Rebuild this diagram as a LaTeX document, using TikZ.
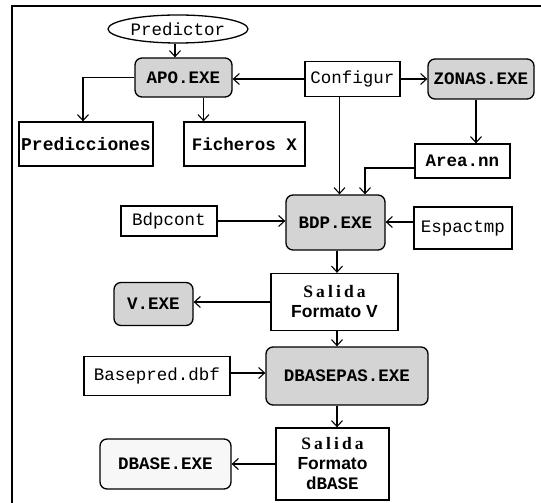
\documentclass[tikz,border=0pt]{standalone}
\usepackage{fontspec}
\usetikzlibrary{arrows.meta,shapes.geometric}
\newfontfamily\monof{Liberation Mono}
\newfontfamily\salf[LetterSpace=18]{Liberation Serif}
\newfontfamily\sansf{Liberation Sans}
\definecolor{boxgray}{RGB}{212,212,212}
\begin{document}
\begin{tikzpicture}[x=1pt,y=-1pt,
  box/.style={draw,line width=1.3pt,rectangle,inner sep=0pt,align=center,font=\monof\fontsize{17.5}{20}\selectfont},
  boldbox/.style={box,font=\monof\bfseries\fontsize{17.5}{20}\selectfont},
  prog/.style={boldbox,rounded corners=7pt,fill=boxgray},
  arr/.style={line width=1.1pt,-{Straight Barb[length=6pt,width=11pt]}}]
\useasboundingbox (0,0) rectangle (541,503);
\draw[line width=2.4pt] (12,503) -- (12,6) -- (541,6);

\node[draw,line width=1.3pt,ellipse,inner sep=0pt,minimum width=140pt,minimum height=28pt,font=\monof\fontsize{17.5}{20}\selectfont] (pred) at (178,29) {Predictor};
\node[prog,minimum width=97pt,minimum height=39pt] (apo) at (183.5,77.5) {APO.EXE};
\node[box,minimum width=95pt,minimum height=35pt] (conf) at (352.5,79) {Configur};
\node[prog,minimum width=106pt,minimum height=40pt] (zonas) at (481,79) {ZONAS.EXE};
\node[boldbox,font=\monof\bfseries\fontsize{18}{20}\selectfont,minimum width=134pt,minimum height=44pt] (predic) at (86,144) {Predicciones};
\node[boldbox,minimum width=121pt,minimum height=44pt] (fich) at (244.5,144) {Ficheros X};
\node[boldbox,minimum width=95pt,minimum height=34pt] (area) at (462.5,161) {Area.nn};
\node[box,minimum width=96pt,minimum height=30pt] (bdpc) at (169,221) {Bdpcont};
\node[prog,minimum width=99pt,minimum height=55pt] (bdp) at (335.5,222.5) {BDP.EXE};
\node[box,minimum width=98pt,minimum height=42pt] (esp) at (463,228) {Espactmp};
\node[prog,minimum width=79pt,minimum height=43pt] (vexe) at (153.5,304) {V.EXE};
\node[box,font=\sansf\bfseries\fontsize{17.5}{20}\selectfont,minimum width=127pt,minimum height=57pt] (salv) at (334.5,302) {{\salf\bfseries Salida}\\Formato V};
\node[box,minimum width=146pt,minimum height=39pt] (basep) at (157,376) {Basepred.dbf};
\node[prog,minimum width=162pt,minimum height=58pt] (dbp) at (347,376) {DBASEPAS.EXE};
\node[boldbox,rounded corners=7pt,fill=gray!6,minimum width=131pt,minimum height=50pt] (dbexe) at (165.5,464) {DBASE.EXE};
\node[box,font=\sansf\bfseries\fontsize{17.5}{20}\selectfont,minimum width=113pt,minimum height=72pt] (sald) at (332.5,464) {{\salf\bfseries Salida}\\Formato\\{\monof\bfseries dBASE}};

\draw[arr] ([xshift=-3pt]pred.south) -- ([xshift=-3pt]pred.south |- apo.north);
\draw[arr] (conf.west) -- (conf.west -| apo.east);
\draw[arr] (conf.east) -- (conf.east -| zonas.west);
\draw[arr] (apo.west) -| ([xshift=-3pt]predic.north);
\draw[arr] ([xshift=20pt]apo.south) -- ([xshift=20pt]apo.south |- fich.north);
\draw[arr] ([xshift=-5pt]zonas.south) -- ([xshift=-5pt]zonas.south |- area.north);
\draw[arr] ([xshift=-13pt]conf.south) -- ([xshift=-13pt]conf.south |- bdp.north);
\draw[arr] ([yshift=-7pt]area.west) -| ([xshift=29.5pt]bdp.north);
\draw[arr] (bdpc.east) -- (bdpc.east -| bdp.west);
\draw[arr] ([yshift=6pt]esp.west) -- ([yshift=6pt]esp.west -| bdp.east);
\draw[arr] ([xshift=1.5pt]bdp.south) -- ([xshift=1.5pt]bdp.south |- salv.north);
\draw[arr] (salv.west) -- (salv.west -| vexe.east);
\draw[arr] ([xshift=2.5pt]salv.south) -- ([xshift=2.5pt]salv.south |- dbp.north);
\draw[arr] ([yshift=3pt]basep.east) -- ([yshift=3pt]basep.east -| dbp.west);
\draw[arr] ([xshift=4.5pt]sald.north |- dbp.south) -- ([xshift=4.5pt]sald.north);
\draw[arr] (sald.west) -- (sald.west -| dbexe.east);
\end{tikzpicture}
\end{document}
